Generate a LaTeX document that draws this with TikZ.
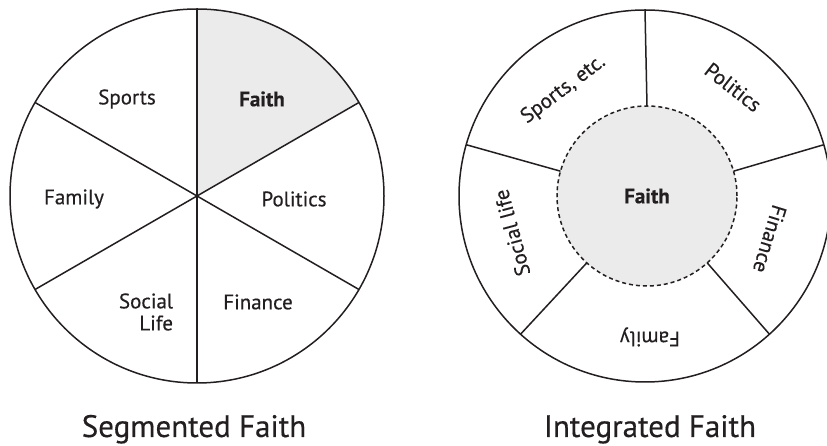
\documentclass[tikz,border=0pt]{standalone}
\usepackage{fontspec}
\setmainfont{PT Sans}[FakeBold=0.4]
\usetikzlibrary{calc}
\definecolor{relleno}{HTML}{EBEBEC}
\definecolor{tinta}{HTML}{231F20}

\begin{document}
\begin{tikzpicture}[x=1pt,y=1pt,line width=1.5pt,draw=tinta,
    etiqueta/.style={font=\fontsize{21}{22}\selectfont,text=tinta,inner sep=0pt},
    titulo/.style={font=\fontsize{31}{33}\selectfont,text=tinta,anchor=base,inner sep=0pt}]
    % Parámetros: centros y radios (en px)
    \def\R{187}     % radio del disco izquierdo
    \def\Rd{186}    % radio del disco derecho
    \def\ri{90}     % radio del disco interior (Faith)

    % Marco de la figura
    \useasboundingbox (0,0) rectangle (827,446);

    % Centros
    \coordinate (cS) at (197,250);
    \coordinate (cI) at (645,250);

    % ---------- Segmented Faith ----------
    % Sector gris de Faith (entre 30 y 90 grados)
    \fill[relleno] (cS) -- ++(30:\R) arc[start angle=30,end angle=90,radius=\R] -- cycle;

    % Borde del disco
    \draw (cS) circle [radius=\R];

    % Tres diámetros: seis sectores
    \foreach \a in {90,30,150}
        \draw ($(cS)+(\a:\R)$) -- ($(cS)+(\a+180:\R)$);

    % Etiquetas de los sectores
    \node[etiqueta] (sports) at (127,347) {Sports};
    \node[etiqueta,font=\fontsize{21}{22}\selectfont\bfseries] (faithS) at (262,347) {Faith};
    \node[etiqueta] (family) at (74,247) {Family};
    \node[etiqueta] (politics) at (294,247) {Politics};
    \node[etiqueta,align=right] (social) at (146,134) {Social\\Life};
    \node[etiqueta] (finance) at (258,144) {Finance};

    % ---------- Integrated Faith ----------
    % Disco interior gris (relleno primero)
    \fill[relleno] ($(cI)+(2,0)$) circle [radius=\ri];

    % Borde del disco exterior
    \draw (cI) circle [radius=\Rd];

    % Radios entre el disco interior y el borde
    \foreach \a in {90,16,-48,-132,164}
        \draw ($(cI)+(2,0)+(\a:\ri)$) -- ($(cI)+(\a:\Rd)$);

    % Borde dashed del disco interior
    \draw[dash pattern=on 4pt off 3pt] ($(cI)+(2,0)$) circle [radius=\ri];

    % Etiquetas giradas de los sectores
    \node[etiqueta,font=\fontsize{21}{22}\selectfont\bfseries] (faithI) at ($(cI)+(2,0)$) {Faith};
    \node[etiqueta,rotate=37] (sportsI) at ($(cI)+(127.5:134)$) {Sports, etc.};
    \node[etiqueta,rotate=-38] (politicsI) at ($(cI)+(51:140)$) {Politics};
    \node[etiqueta,rotate=-107] (financeI) at ($(cI)+(-19:132)$) {Finance};
    \node[etiqueta,rotate=180] (familyI) at ($(cI)+(-88:141)$) {Family};
    \node[etiqueta,rotate=105] (socialI) at ($(cI)+(195.5:138)$) {Social life};

    % Títulos
    \node[titulo] (tituloS) at (194,9) {Segmented Faith};
    \node[titulo] (tituloI) at (650,9) {Integrated Faith};
\end{tikzpicture}
\end{document}
